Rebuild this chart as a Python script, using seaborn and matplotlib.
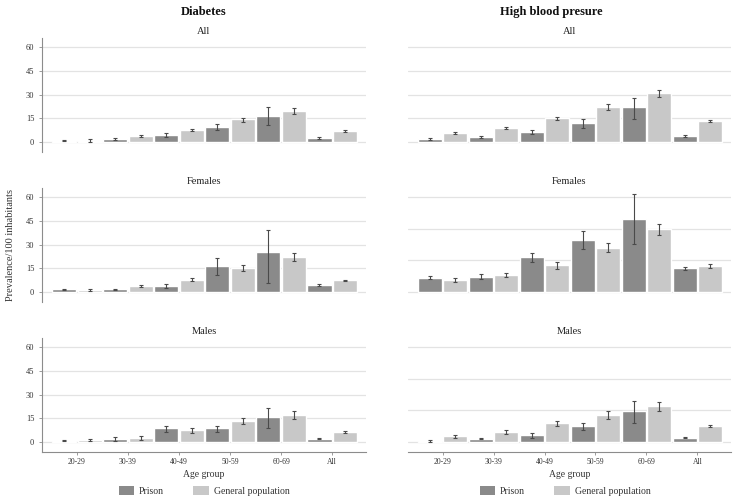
import numpy as np
import pandas as pd
import matplotlib
matplotlib.use("Agg")
import matplotlib.pyplot as plt
from matplotlib.patches import Patch
import seaborn as sns

# data
age_groups = ["20-29", "30-39", "40-49", "50-59", "60-69", "All"]
series = ["Prison", "General population"]

# Diabetes - All
diab_all_prison = [0.8, 1.9, 4.4, 9.7, 16.6, 2.5]
diab_all_prison_lo = [0.5, 1.4, 3.2, 7.4, 10.7, 2.1]
diab_all_prison_hi = [1.1, 2.4, 5.9, 11.6, 22.1, 2.9]
diab_all_gen = [0.9, 3.8, 7.6, 14.3, 19.8, 6.9]
diab_all_gen_lo = [0.2, 2.9, 6.7, 12.8, 17.5, 6.5]
diab_all_gen_hi = [2.1, 4.6, 8.4, 15.2, 21.7, 7.3]

# Diabetes - Females
diab_fem_prison = [1.7, 1.7, 4.0, 16.2, 25.3, 4.6]
diab_fem_prison_lo = [1.3, 1.3, 2.7, 10.5, 5.5, 4.0]
diab_fem_prison_hi = [2.1, 2.1, 5.1, 21.5, 39.4, 5.3]
diab_fem_gen = [1.3, 4.0, 7.8, 15.2, 22.1, 7.4]
diab_fem_gen_lo = [0.9, 3.4, 6.7, 13.1, 19.4, 6.7]
diab_fem_gen_hi = [1.7, 4.6, 8.6, 16.8, 24.6, 7.8]

# Diabetes - Males
diab_mal_prison = [0.85, 2.1, 8.7, 8.7, 16.0, 2.1]
diab_mal_prison_lo = [0.6, 0.6, 6.4, 6.4, 8.7, 1.7]
diab_mal_prison_hi = [1.1, 3.4, 10.2, 10.2, 21.5, 2.5]
diab_mal_gen = [1.3, 2.8, 7.4, 13.2, 17.0, 6.2]
diab_mal_gen_lo = [0.6, 1.3, 5.9, 11.1, 14.3, 5.5]
diab_mal_gen_hi = [1.9, 4.0, 8.7, 14.9, 19.6, 6.8]

# High blood pressure - All
hbp_all_prison = [1.9, 3.2, 6.3, 12.2, 21.9, 4.0]
hbp_all_prison_lo = [1.3, 2.8, 5.1, 9.1, 14.7, 3.4]
hbp_all_prison_hi = [2.5, 3.6, 7.4, 14.5, 27.6, 4.6]
hbp_all_gen = [5.7, 8.8, 14.9, 22.3, 30.7, 13.5]
hbp_all_gen_lo = [5.1, 8.2, 13.7, 20.4, 28.4, 12.9]
hbp_all_gen_hi = [6.3, 9.4, 15.8, 24.2, 33.1, 14.1]

# High blood pressure - Females
hbp_fem_prison = [9.1, 9.7, 22.3, 33.1, 46.3, 15.2]
hbp_fem_prison_lo = [8.0, 8.2, 19.2, 27.2, 30.3, 14.1]
hbp_fem_prison_hi = [10.1, 11.2, 24.8, 38.7, 61.7, 15.8]
hbp_fem_gen = [7.8, 10.9, 16.8, 28.0, 39.8, 16.4]
hbp_fem_gen_lo = [6.3, 9.5, 14.7, 25.1, 36.0, 14.9]
hbp_fem_gen_hi = [9.1, 12.0, 18.9, 30.9, 42.9, 17.7]

# High blood pressure - Males
hbp_mal_prison = [0.6, 2.1, 4.2, 10.0, 19.5, 2.7]
hbp_mal_prison_lo = [0.2, 1.7, 2.7, 7.5, 12.1, 2.3]
hbp_mal_prison_hi = [1.3, 2.5, 5.5, 12.3, 25.7, 3.1]
hbp_mal_gen = [3.6, 6.1, 11.9, 17.2, 22.6, 10.0]
hbp_mal_gen_lo = [2.7, 4.8, 10.2, 14.4, 19.7, 9.4]
hbp_mal_gen_hi = [4.2, 7.3, 13.2, 19.9, 25.1, 10.7]

left_ticks = [0, 15, 30, 45, 60]
right_ticks_all = [0, 15, 30, 45, 60]
right_ticks_sex = [0, 20, 40, 60]

dark = "#8a8a8a"
light = "#c8c8c8"
err_col = "#4a4a4a"
grid_col = "#e3e3e3"
axis_col = "#8c8c8c"

sns.set_theme(style="white")
plt.rcParams["font.family"] = ["Liberation Serif", "DejaVu Serif"]
plt.rcParams["font.size"] = 7

W, H = 733, 498
fig = plt.figure(figsize=(W / 100, H / 100), dpi=100)

panels = [
    # (row, col, title, prison, p_lo, p_hi, gen, g_lo, g_hi, yticks)
    (0, 0, "All", diab_all_prison, diab_all_prison_lo, diab_all_prison_hi,
     diab_all_gen, diab_all_gen_lo, diab_all_gen_hi, left_ticks),
    (1, 0, "Females", diab_fem_prison, diab_fem_prison_lo, diab_fem_prison_hi,
     diab_fem_gen, diab_fem_gen_lo, diab_fem_gen_hi, left_ticks),
    (2, 0, "Males", diab_mal_prison, diab_mal_prison_lo, diab_mal_prison_hi,
     diab_mal_gen, diab_mal_gen_lo, diab_mal_gen_hi, left_ticks),
    (0, 1, "All", hbp_all_prison, hbp_all_prison_lo, hbp_all_prison_hi,
     hbp_all_gen, hbp_all_gen_lo, hbp_all_gen_hi, right_ticks_all),
    (1, 1, "Females", hbp_fem_prison, hbp_fem_prison_lo, hbp_fem_prison_hi,
     hbp_fem_gen, hbp_fem_gen_lo, hbp_fem_gen_hi, right_ticks_sex),
    (2, 1, "Males", hbp_mal_prison, hbp_mal_prison_lo, hbp_mal_prison_hi,
     hbp_mal_gen, hbp_mal_gen_lo, hbp_mal_gen_hi, right_ticks_sex),
]

col_left = [42, 408]
col_width = [324, 323]
row_top = [38, 188, 338]
ax_h = 114

for row, col, title, p, p_lo, p_hi, g, g_lo, g_hi, yticks in panels:
    x0 = col_left[col] / W
    y0 = (H - row_top[row] - ax_h) / H
    ax = fig.add_axes([x0, y0, col_width[col] / W, ax_h / H])

    df = pd.DataFrame({
        "age": age_groups * 2,
        "group": [series[0]] * 6 + [series[1]] * 6,
        "value": list(p) + list(g),
    })
    sns.barplot(data=df, x="age", y="value", hue="group", order=age_groups,
                hue_order=series, palette=[dark, light], saturation=1,
                width=1.0, gap=0.06, errorbar=None, legend=False, ax=ax,
                zorder=2)

    # error bars at bar centres
    for cont, vals, lo, hi in [(ax.containers[0], p, p_lo, p_hi),
                               (ax.containers[1], g, g_lo, g_hi)]:
        xs = [b.get_x() + b.get_width() / 2 for b in cont]
        vals = np.array(vals)
        yerr = [vals - np.array(lo), np.array(hi) - vals]
        ax.errorbar(xs, vals, yerr=yerr, fmt="none", ecolor=err_col,
                    elinewidth=0.8, capsize=1.6, capthick=0.8, zorder=3)

    ax.set_ylim(-6.3, 65.7)
    ax.set_xlim(-0.68, 5.66)
    ax.set_yticks(yticks)
    ax.grid(axis="y", color=grid_col, linewidth=0.9, zorder=0)
    ax.set_axisbelow(True)
    ax.set_title(title, fontsize=7.5, pad=3, color="#222222")
    ax.set_xlabel("")
    ax.set_ylabel("")

    for s in ["top", "right"]:
        ax.spines[s].set_visible(False)
    if col == 0:
        ax.spines["left"].set_color(axis_col)
        ax.spines["left"].set_linewidth(0.8)
        ax.tick_params(axis="y", length=2.5, width=0.6, color=axis_col,
                       labelsize=6, labelcolor="#333333", pad=3, left=True)
    else:
        ax.spines["left"].set_visible(False)
        ax.tick_params(axis="y", left=False, labelleft=False)

    if row == 2:
        ax.spines["bottom"].set_color(axis_col)
        ax.spines["bottom"].set_linewidth(0.8)
        ax.tick_params(axis="x", length=2.5, width=0.6, color=axis_col,
                       labelsize=5.5, labelcolor="#333333", pad=2, bottom=True)
        ax.set_xlabel("Age group", fontsize=7, color="#333333", labelpad=3)
    else:
        ax.spines["bottom"].set_visible(False)
        ax.tick_params(axis="x", bottom=False, labelbottom=False)

    if row == 1 and col == 0:
        ax.set_ylabel("Prevalence/100 inhabitants", fontsize=7.5,
                      color="#333333", labelpad=8)

# column headers
fig.text(204 / W, 1 - 12 / H, "Diabetes", ha="center", va="center",
         fontsize=9, fontweight="bold", color="#111111")
fig.text(551 / W, 1 - 12 / H, "High blood presure", ha="center", va="center",
         fontsize=9, fontweight="bold", color="#111111")

# legends, one under each column
handles = [Patch(facecolor=dark, edgecolor="none", label=series[0]),
           Patch(facecolor=light, edgecolor="none", label=series[1])]
for cx in [204, 565]:
    fig.legend(handles=handles, loc="center", ncol=2, frameon=False,
               bbox_to_anchor=(cx / W, 1 - 491 / H), fontsize=7,
               handlelength=1.6, handleheight=1.0, columnspacing=3.0,
               handletextpad=0.5, labelcolor="#333333")

fig.savefig("out.png", dpi=100)
